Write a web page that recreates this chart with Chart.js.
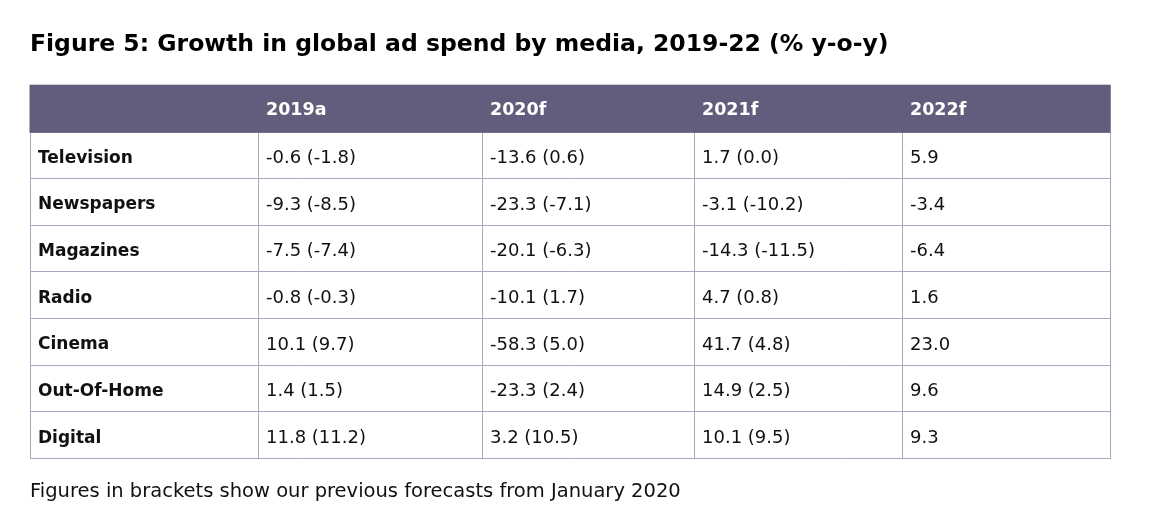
<!DOCTYPE html>
<html>
<head>
<meta charset="utf-8">
<script src="https://cdn.jsdelivr.net/npm/chart.js@4/dist/chart.umd.min.js"></script>
<style>
  html, body { margin: 0; padding: 0; background: #fff; }
  #wrap { width: 1149px; height: 523px; position: relative; }
</style>
</head>
<body>
<div id="wrap"><canvas id="tbl"></canvas></div>
<script>
// --- DATA ---
const media = ['Television', 'Newspapers', 'Magazines', 'Radio', 'Cinema', 'Out-Of-Home', 'Digital'];
const years = ['2019a', '2020f', '2021f', '2022f'];

const growth2019 = [-0.6, -9.3, -7.5, -0.8, 10.1, 1.4, 11.8];
const prev2019   = [-1.8, -8.5, -7.4, -0.3, 9.7, 1.5, 11.2];
const growth2020 = [-13.6, -23.3, -20.1, -10.1, -58.3, -23.3, 3.2];
const prev2020   = [0.6, -7.1, -6.3, 1.7, 5.0, 2.4, 10.5];
const growth2021 = [1.7, -3.1, -14.3, 4.7, 41.7, 14.9, 10.1];
const prev2021   = [0.0, -10.2, -11.5, 0.8, 4.8, 2.5, 9.5];
const growth2022 = [5.9, -3.4, -6.4, 1.6, 23.0, 9.6, 9.3];

const growth = [growth2019, growth2020, growth2021, growth2022];
const prev = [prev2019, prev2020, prev2021, null];

// --- LAYOUT (column edges in x-scale units) ---
const colEdges = [0, 228, 452, 664, 872, 1080];
const HEADER = '#625d7c';
const GRID = '#aaa7c0';
const FONT = '"DejaVu Sans", sans-serif';

const fmt = v => v.toFixed(1);

// one invisible scatter series per column; points sit at the left edge of each cell
const datasets = [];
datasets.push({
    label: 'media',
    texts: media,
    font: 'bold 17px',
    data: media.map((m, r) => ({ x: colEdges[0], y: r + 1.5 }))
});
years.forEach((yr, c) => {
    datasets.push({
        label: yr,
        texts: growth[c].map((v, r) => prev[c] ? `${fmt(v)} (${fmt(prev[c][r])})` : fmt(v)),
        font: 'normal 18px',
        data: growth[c].map((v, r) => ({ x: colEdges[c + 1], y: r + 1.5 }))
    });
});
datasets.push({
    label: 'header',
    texts: years,
    font: 'bold 17.5px',
    header: true,
    data: years.map((yr, c) => ({ x: colEdges[c + 1], y: 0.5 }))
});

// --- TABLE PAINTER ---
const tablePlugin = {
    id: 'tablePainter',
    afterDraw(chart) {
        const { ctx, chartArea, scales } = chart;
        const y0 = scales.y.getPixelForValue(0);
        const y1 = scales.y.getPixelForValue(1);
        ctx.save();
        ctx.fillStyle = HEADER;
        ctx.fillRect(chartArea.left - 0.5, y0 - 0.5, chartArea.right - chartArea.left + 1, y1 - y0 + 1.5);
        ctx.textBaseline = 'middle';
        ctx.textAlign = 'left';
        chart.data.datasets.forEach((ds, i) => {
            const meta = chart.getDatasetMeta(i);
            ctx.font = `${ds.font} ${FONT}`;
            ctx.fillStyle = ds.header ? '#ffffff' : '#111111';
            meta.data.forEach((pt, j) => {
                ctx.fillText(ds.texts[j], pt.x + 8, pt.y + (ds.header ? 2 : 3));
            });
        });
        ctx.restore();
    }
};

new Chart(document.getElementById('tbl'), {
    type: 'scatter',
    data: { datasets },
    options: {
        responsive: true,
        maintainAspectRatio: false,
        animation: false,
        events: [],
        layout: { padding: { left: 30, right: 39, top: 0, bottom: 0 } },
        elements: { point: { radius: 0, hoverRadius: 0 } },
        plugins: {
            legend: { display: false },
            tooltip: { enabled: false },
            title: {
                display: true,
                text: 'Figure 5: Growth in global ad spend by media, 2019-22 (% y-o-y)',
                align: 'start',
                color: '#000',
                font: { family: FONT, size: 23.5, weight: 'bold', lineHeight: 1.2 },
                padding: { top: 31, bottom: 26 }
            },
            subtitle: {
                display: true,
                position: 'bottom',
                text: 'Figures in brackets show our previous forecasts from January 2020',
                align: 'start',
                color: '#111',
                font: { family: FONT, size: 19.5, weight: 'normal', lineHeight: 1.2 },
                padding: { top: 22, bottom: 19 }
            }
        },
        scales: {
            x: {
                type: 'linear',
                min: colEdges[0],
                max: colEdges[colEdges.length - 1],
                afterBuildTicks: s => { s.ticks = colEdges.map(v => ({ value: v })); },
                ticks: { display: false },
                grid: { color: GRID, lineWidth: 1, drawTicks: false },
                border: { display: true, color: GRID }
            },
            y: {
                type: 'linear',
                reverse: true,
                min: 0,
                max: media.length + 1,
                afterBuildTicks: s => { s.ticks = Array.from({ length: media.length + 2 }, (_, i) => ({ value: i })); },
                ticks: { display: false },
                grid: { color: GRID, lineWidth: 1, drawTicks: false },
                border: { display: true, color: GRID }
            }
        }
    },
    plugins: [tablePlugin]
});
</script>
</body>
</html>
